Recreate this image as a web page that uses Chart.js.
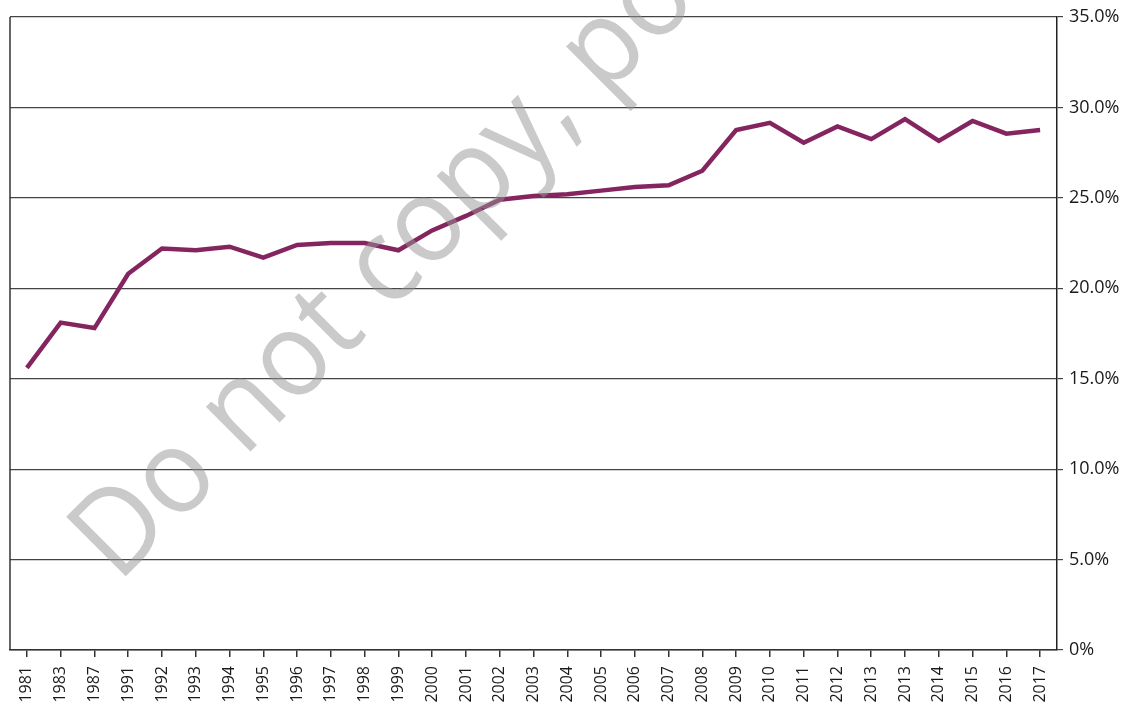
<!DOCTYPE html>
<html>
<head>
<meta charset="utf-8">
<script src="https://cdn.jsdelivr.net/npm/chart.js@4"></script>
<style>
  html, body { margin: 0; padding: 0; background: #fff; }
  #wrap { width: 1127px; height: 707px; }
</style>
</head>
<body>
<div id="wrap"><canvas id="shareChart"></canvas></div>
<script>
// categories (x axis, as printed - 2013 appears twice)
var years = ['1981', '1983', '1987', '1991', '1992', '1993', '1994', '1995', '1996', '1997',
    '1998', '1999', '2000', '2001', '2002', '2003', '2004', '2005', '2006', '2007',
    '2008', '2009', '2010', '2011', '2012', '2013', '2013', '2014', '2015', '2016', '2017'];

// share in percent
var shareValues = [15.6, 18.1, 17.8, 20.8, 22.2, 22.1, 22.3, 21.7, 22.4, 22.5,
    22.5, 22.1, 23.2, 24.0, 24.9, 25.1, 25.2, 25.4, 25.6, 25.7,
    26.5, 28.75, 29.15, 28.05, 28.95, 28.25, 29.35, 28.15, 29.25, 28.55, 28.75];

// y axis ticks
var yTicks = [0, 5, 10, 15, 20, 25, 30, 35];

var watermarkText = 'Do not copy, post, or distribute';

// left frame line + watermark on top
var framePlugin = {
    id: 'frame',
    afterDatasetsDraw: function (chart) {
        var c = chart.ctx, a = chart.chartArea;
        c.save();
        c.strokeStyle = '#333';
        c.lineWidth = 1.5;
        c.beginPath();
        c.moveTo(a.left, a.top);
        c.lineTo(a.left, a.bottom);
        c.stroke();
        c.restore();
    },
    afterDraw: function (chart) {
        var c = chart.ctx;
        c.save();
        c.translate(118, 584);
        c.rotate(-Math.PI / 4);
        c.scale(0.95, 1);
        c.font = '118px "Open Sans"';
        c.fillStyle = 'rgba(150, 150, 150, 0.5)';
        c.textBaseline = 'alphabetic';
        c.fillText(watermarkText, 0, 0);
        c.restore();
    }
};

var ctx = document.getElementById('shareChart').getContext('2d');

var shareChart = new Chart(ctx, {
    type: 'line',
    data: {
        labels: years,
        datasets: [{
            label: 'Share',
            data: shareValues,
            borderColor: '#852560',
            borderWidth: 4.5,
            pointRadius: 0,
            tension: 0,
            fill: false
        }]
    },
    options: {
        responsive: true,
        maintainAspectRatio: false,
        animation: false,
        layout: {
            padding: { left: 10, top: 17, right: 0, bottom: 0 }
        },
        plugins: {
            legend: { display: false },
            tooltip: { enabled: false }
        },
        scales: {
            x: {
                offset: true,
                grid: {
                    drawOnChartArea: false,
                    drawTicks: true,
                    tickLength: 7,
                    color: '#333',
                    lineWidth: 1.5
                },
                border: { display: true, color: '#333', width: 1.5 },
                ticks: {
                    autoSkip: false,
                    minRotation: 90,
                    maxRotation: 90,
                    padding: 9,
                    color: '#1a1a1a',
                    font: { family: '"Open Sans"', size: 16 }
                },
                afterFit: function (scale) { scale.height = 57; }
            },
            y: {
                position: 'right',
                min: 0,
                max: 35,
                afterBuildTicks: function (scale) {
                    scale.ticks = yTicks.map(function (v) { return { value: v }; });
                },
                grid: {
                    color: '#444',
                    lineWidth: 1.2,
                    tickLength: 6
                },
                border: { display: true, color: '#222', width: 1.5 },
                ticks: {
                    padding: 6,
                    color: '#1a1a1a',
                    font: { family: '"Open Sans"', size: 18 },
                    callback: function (v) { return v === 0 ? '0%' : v.toFixed(1) + '%'; }
                },
                afterFit: function (scale) { scale.width = 70; }
            }
        }
    },
    plugins: [framePlugin]
});
</script>
</body>
</html>
